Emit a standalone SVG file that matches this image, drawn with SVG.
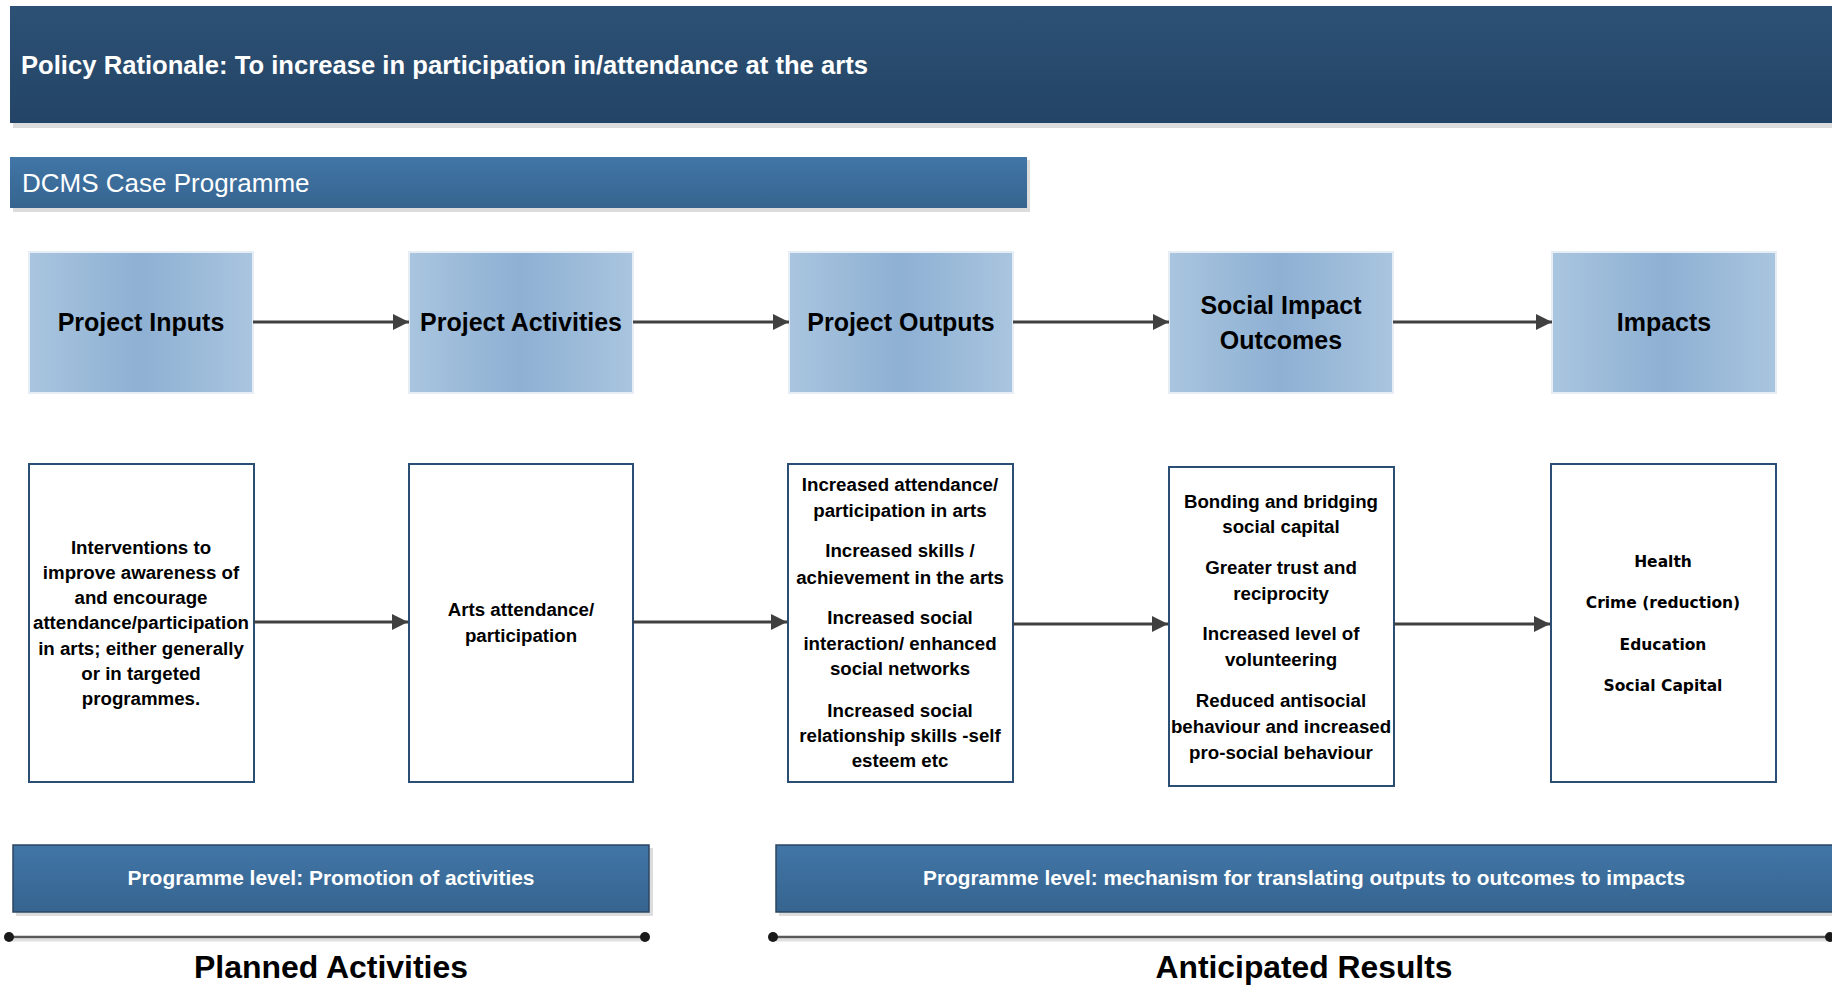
<svg xmlns="http://www.w3.org/2000/svg" width="1832" height="987" viewBox="0 0 1832 987">
<defs>
<linearGradient id="gTop" x1="0" y1="0" x2="0" y2="1"><stop offset="0" stop-color="#2c5175"/><stop offset="1" stop-color="#234466"/></linearGradient>
<linearGradient id="gBar" x1="0" y1="0" x2="0" y2="1"><stop offset="0" stop-color="#4176a7"/><stop offset="1" stop-color="#36648f"/></linearGradient>
<linearGradient id="gBox" x1="0" y1="0" x2="1" y2="0"><stop offset="0" stop-color="#a9c5df"/><stop offset="0.5" stop-color="#8eb0d3"/><stop offset="1" stop-color="#a9c5df"/></linearGradient>
<marker id="arr" markerUnits="userSpaceOnUse" markerWidth="20" markerHeight="20" refX="16" refY="8" orient="auto"><path d="M0,0 L16,8 L0,16 Z" fill="#404040"/></marker>
<style>
.hdr{font-family:"Liberation Sans",Arial,sans-serif;font-weight:bold;fill:#fff}
.bar{font-family:"Liberation Sans",Arial,sans-serif;fill:#fff}
.lbl{font-family:"Liberation Sans",Arial,sans-serif;font-weight:bold;font-size:25px;fill:#000;text-anchor:middle}
.txt{font-family:"Liberation Sans",Arial,sans-serif;font-weight:bold;font-size:18.7px;fill:#000;text-anchor:middle}
.txt2{font-family:"DejaVu Sans",Verdana,sans-serif;font-weight:bold;font-size:15.5px;fill:#000;text-anchor:middle}
.big{font-family:"Liberation Sans",Arial,sans-serif;font-weight:bold;font-size:31px;fill:#000;text-anchor:middle}
.topbox{fill:url(#gBox);stroke:#e6edf5;stroke-width:2}
.botbox{fill:#fff;stroke:#2b4e74;stroke-width:2}
.conn{stroke:#404040;stroke-width:3;fill:none;marker-end:url(#arr)}
.shadow{fill:#dcdcdc}
</style>
</defs>
<rect width="1832" height="987" fill="#fff"/>

<g id="policy">
<rect class="shadow" x="13" y="123" width="1819" height="5"/>
<rect x="10" y="6" width="1822" height="117" fill="url(#gTop)"/>
<text class="hdr" x="21" y="74" font-size="26" textLength="847" lengthAdjust="spacingAndGlyphs">Policy Rationale: To increase in participation in/attendance at the arts</text>
</g>

<g id="dcms">
<rect class="shadow" x="13" y="160" width="1017" height="52"/>
<rect x="10" y="157" width="1017" height="51" fill="url(#gBar)"/>
<text class="bar" x="22" y="192" font-size="26">DCMS Case Programme</text>
</g>

<g id="inputs">
<rect class="topbox" x="29" y="252" width="224" height="141"/>
<text class="lbl" x="141" y="331">Project Inputs</text>
</g>
<g id="activities">
<rect class="topbox" x="409" y="252" width="224" height="141"/>
<text class="lbl" x="521" y="331">Project Activities</text>
</g>
<g id="outputs">
<rect class="topbox" x="789" y="252" width="224" height="141"/>
<text class="lbl" x="901" y="331">Project Outputs</text>
</g>
<g id="outcomes">
<rect class="topbox" x="1169" y="252" width="224" height="141"/>
<text class="lbl" x="1281" y="314">Social Impact</text>
<text class="lbl" x="1281" y="349">Outcomes</text>
</g>
<g id="impacts">
<rect class="topbox" x="1552" y="252" width="224" height="141"/>
<text class="lbl" x="1664" y="331">Impacts</text>
</g>

<g id="inputs-detail">
<rect class="botbox" x="29" y="464" width="225" height="318"/>
<text class="txt" x="141" y="554">Interventions to</text>
<text class="txt" x="141" y="579">improve awareness of</text>
<text class="txt" x="141" y="604">and encourage</text>
<text class="txt" x="141" y="629">attendance/participation</text>
<text class="txt" x="141" y="655">in arts; either generally</text>
<text class="txt" x="141" y="680">or in targeted</text>
<text class="txt" x="141" y="705">programmes.</text>
</g>
<g id="activities-detail">
<rect class="botbox" x="409" y="464" width="224" height="318"/>
<text class="txt" x="521" y="616">Arts attendance/</text>
<text class="txt" x="521" y="642">participation</text>
</g>
<g id="outputs-detail">
<rect class="botbox" x="788" y="464" width="225" height="318"/>
<text class="txt" x="900" y="491">Increased attendance/</text>
<text class="txt" x="900" y="517">participation in arts</text>
<text class="txt" x="900" y="557">Increased skills /</text>
<text class="txt" x="900" y="584">achievement in the arts</text>
<text class="txt" x="900" y="624">Increased social</text>
<text class="txt" x="900" y="650">interaction/ enhanced</text>
<text class="txt" x="900" y="675">social networks</text>
<text class="txt" x="900" y="717">Increased social</text>
<text class="txt" x="900" y="742">relationship skills -self</text>
<text class="txt" x="900" y="767">esteem etc</text>
</g>
<g id="outcomes-detail">
<rect class="botbox" x="1169" y="467" width="225" height="319"/>
<text class="txt" x="1281" y="508">Bonding and bridging</text>
<text class="txt" x="1281" y="533">social capital</text>
<text class="txt" x="1281" y="574">Greater trust and</text>
<text class="txt" x="1281" y="600">reciprocity</text>
<text class="txt" x="1281" y="640">Increased level of</text>
<text class="txt" x="1281" y="666">volunteering</text>
<text class="txt" x="1281" y="707">Reduced antisocial</text>
<text class="txt" x="1281" y="733">behaviour and increased</text>
<text class="txt" x="1281" y="759">pro-social behaviour</text>
</g>
<g id="impacts-detail">
<rect class="botbox" x="1551" y="464" width="225" height="318"/>
<text class="txt2" x="1663" y="567">Health</text>
<text class="txt2" x="1663" y="608">Crime (reduction)</text>
<text class="txt2" x="1663" y="650">Education</text>
<text class="txt2" x="1663" y="691">Social Capital</text>
</g>

<g id="connectors">
<line class="conn" x1="253" y1="322" x2="409" y2="322"/>
<line class="conn" x1="633" y1="322" x2="789" y2="322"/>
<line class="conn" x1="1013" y1="322" x2="1169" y2="322"/>
<line class="conn" x1="1393" y1="322" x2="1552" y2="322"/>
<line class="conn" x1="254" y1="622" x2="408" y2="622"/>
<line class="conn" x1="633" y1="622" x2="787" y2="622"/>
<line class="conn" x1="1013" y1="624" x2="1168" y2="624"/>
<line class="conn" x1="1394" y1="624" x2="1550" y2="624"/>
</g>

<g id="promotion">
<rect class="shadow" x="16" y="848" width="637" height="68"/>
<rect x="13" y="845" width="636" height="67" fill="url(#gBar)" stroke="#2d4661" stroke-width="1.5"/>
<text class="hdr" x="331" y="885" font-size="20" text-anchor="middle" textLength="407" lengthAdjust="spacingAndGlyphs">Programme level: Promotion of activities</text>
</g>
<g id="mechanism">
<rect class="shadow" x="779" y="848" width="1053" height="68"/>
<rect x="776" y="845" width="1060" height="67" fill="url(#gBar)" stroke="#2d4661" stroke-width="1.5"/>
<text class="hdr" x="1304" y="885" font-size="20" text-anchor="middle" textLength="762" lengthAdjust="spacingAndGlyphs">Programme level: mechanism for translating outputs to outcomes to impacts</text>
</g>

<g id="planned">
<line x1="10" y1="940" x2="647" y2="940" stroke="#e0e0e0" stroke-width="3"/>
<line x1="8" y1="937" x2="645" y2="937" stroke="#595959" stroke-width="2.5"/>
<circle cx="9" cy="937" r="5" fill="#1a1a1a"/>
<circle cx="645" cy="937" r="5" fill="#1a1a1a"/>
<text class="big" x="331" y="978" textLength="274" lengthAdjust="spacingAndGlyphs">Planned Activities</text>
</g>
<g id="anticipated">
<line x1="776" y1="940" x2="1832" y2="940" stroke="#e0e0e0" stroke-width="3"/>
<line x1="773" y1="937" x2="1832" y2="937" stroke="#595959" stroke-width="2.5"/>
<circle cx="773" cy="937" r="5" fill="#1a1a1a"/>
<circle cx="1830" cy="937" r="5" fill="#1a1a1a"/>
<text class="big" x="1304" y="978" textLength="297" lengthAdjust="spacingAndGlyphs">Anticipated Results</text>
</g>
</svg>
